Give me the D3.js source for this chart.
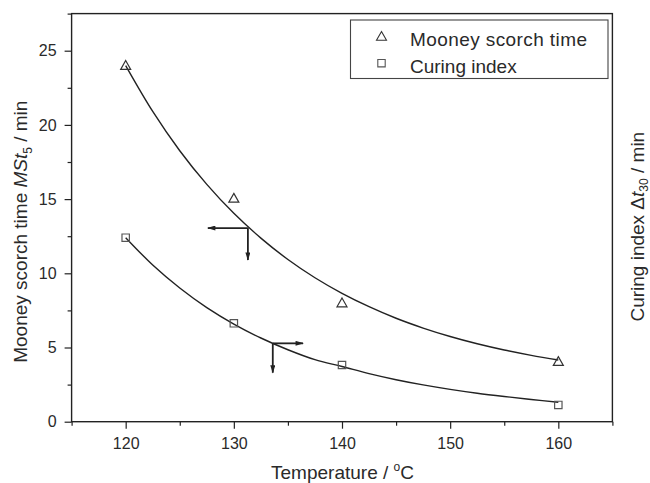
<!DOCTYPE html>
<html>
<head>
<meta charset="utf-8">
<script src="https://cdn.jsdelivr.net/npm/d3@7"></script>
<style>
  body { margin: 0; background: #fff; }
  text { font-family: "Liberation Sans", Arial, sans-serif; fill: #2a2a2a; }
  .axis text { font-size: 16px; }
  .axis line { stroke: #222; stroke-width: 1.2; }
  .title { font-size: 19px; }
</style>
</head>
<body>
<div id="chart"></div>
<script>
// measured points
let temps = [120, 130, 140, 160];
let scorchTime = [24.0, 15.05, 8.0, 4.05];
let curingIndex = [12.4, 6.63, 3.82, 1.13];

// fitted curves
let fitTemps = [120, 122.5, 125, 127.5, 130, 132.5, 135, 137.5, 140, 142.5, 145, 147.5, 150, 152.5, 155, 157.5, 160];
let scorchFit = [24.0, 20.91, 18.26, 15.99, 14.04, 12.37, 10.93, 9.70, 8.65, 7.75, 6.97, 6.31, 5.74, 5.25, 4.83, 4.47, 4.16];
let curingFit = [12.4, 10.56, 9.01, 7.69, 6.58, 5.64, 4.85, 4.18, 3.72, 3.24, 2.83, 2.48, 2.18, 1.92, 1.70, 1.50, 1.31];

let seriesNames = ['Mooney scorch time', 'Curing index'];

let xMajor = [120, 130, 140, 150, 160];
let xMinor = [115, 125, 135, 145, 155, 165];
let yMajor = [0, 5, 10, 15, 20, 25];
let yMinor = [2.5, 7.5, 12.5, 17.5, 22.5, 27.5];

// axis-pointer arrows: corner on the curve, then horizontal and vertical tips
let arrowCorner = [[131.3, 13.05], [133.6, 5.28]];
let arrowHorizTip = [127.6, 136.4];
let arrowVertTip = [10.9, 3.3];

let margin = {top: 13.6, right: 37.6, bottom: 61.3, left: 71.6};
let width = 650 - margin.left - margin.right;
let height = 483 - margin.top - margin.bottom;

let xScale = d3.scaleLinear().domain([115, 165]).range([0, width]);
let yScale = d3.scaleLinear().domain([0, 27.5]).range([height, 0]);

let root = d3.select('#chart')
  .append('svg')
  .attr('width', 650)
  .attr('height', 483);

root.append('defs').append('marker')
  .attr('id', 'head')
  .attr('viewBox', '0 -3 10 6')
  .attr('refX', 9)
  .attr('refY', 0)
  .attr('markerUnits', 'userSpaceOnUse')
  .attr('markerWidth', 9)
  .attr('markerHeight', 5)
  .attr('orient', 'auto')
  .append('path')
  .attr('d', 'M0,-3L10,0L0,3Z')
  .attr('fill', '#222');

let svg = root.append('g')
  .attr('transform', 'translate(' + margin.left + ',' + margin.top + ')');

// axes
let xAxis = d3.axisBottom(xScale).tickValues(xMajor).tickSize(7).tickPadding(9).tickSizeOuter(0);
let xAxisMinor = d3.axisBottom(xScale).tickValues(xMinor).tickSize(4).tickFormat('').tickSizeOuter(0);
let yAxis = d3.axisLeft(yScale).tickValues(yMajor).tickSize(7).tickPadding(8).tickSizeOuter(0);
let yAxisMinor = d3.axisLeft(yScale).tickValues(yMinor).tickSize(4).tickFormat('').tickSizeOuter(0);

svg.append('g').attr('class', 'x axis').attr('transform', 'translate(0,' + height + ')').call(xAxis);
svg.append('g').attr('class', 'x axis').attr('transform', 'translate(0,' + height + ')').call(xAxisMinor);
svg.append('g').attr('class', 'y axis').call(yAxis);
svg.append('g').attr('class', 'y axis').call(yAxisMinor);
svg.selectAll('.axis .domain').remove();
svg.selectAll('.axis text').attr('font-family', null);

svg.append('rect')
  .attr('width', width)
  .attr('height', height)
  .attr('fill', 'none')
  .attr('stroke', '#222')
  .attr('stroke-width', 1.4);

// fit curves
let line = d3.line()
  .x(d => xScale(d[0]))
  .y(d => yScale(d[1]))
  .curve(d3.curveCatmullRom);

[scorchFit, curingFit].forEach(fit => {
  svg.append('path')
    .datum(fitTemps.map((t, i) => [t, fit[i]]))
    .attr('d', line)
    .attr('fill', 'none')
    .attr('stroke', '#222')
    .attr('stroke-width', 1.4);
});

// markers
let triangle = 'M0,-5L5,3.8L-5,3.8Z';
let square = 'M-3.7,-3.7H3.7V3.7H-3.7Z';

svg.selectAll('.tri')
  .data(temps.map((t, i) => [t, scorchTime[i]]))
  .enter()
  .append('path')
  .attr('class', 'tri')
  .attr('d', triangle)
  .attr('transform', d => 'translate(' + xScale(d[0]) + ',' + yScale(d[1]) + ')')
  .attr('fill', 'none')
  .attr('stroke', '#333')
  .attr('stroke-width', 1.2);

svg.selectAll('.sq')
  .data(temps.map((t, i) => [t, curingIndex[i]]))
  .enter()
  .append('path')
  .attr('class', 'sq')
  .attr('d', square)
  .attr('transform', d => 'translate(' + xScale(d[0]) + ',' + yScale(d[1]) + ')')
  .attr('fill', 'none')
  .attr('stroke', '#555')
  .attr('stroke-width', 1.2);

// arrows
arrowCorner.forEach((c, i) => {
  let cx = xScale(c[0]);
  let cy = yScale(c[1]);
  svg.append('line')
    .attr('x1', cx).attr('y1', cy)
    .attr('x2', xScale(arrowHorizTip[i])).attr('y2', cy)
    .attr('stroke', '#222').attr('stroke-width', 1.8)
    .attr('marker-end', 'url(#head)');
  svg.append('line')
    .attr('x1', cx).attr('y1', cy)
    .attr('x2', cx).attr('y2', yScale(arrowVertTip[i]))
    .attr('stroke', '#222').attr('stroke-width', 1.8)
    .attr('marker-end', 'url(#head)');
});

// legend
let legend = root.append('g').attr('transform', 'translate(350.5,20)');
legend.append('rect')
  .attr('width', 257.5)
  .attr('height', 58.5)
  .attr('fill', '#fff')
  .attr('stroke', '#444')
  .attr('stroke-width', 1.1);

let rows = legend.selectAll('.row')
  .data(seriesNames)
  .enter()
  .append('g')
  .attr('class', 'row')
  .attr('transform', (d, i) => 'translate(0,' + (16.5 + i * 26.7) + ')');

rows.append('path')
  .attr('d', (d, i) => i === 0 ? triangle : square)
  .attr('transform', 'translate(31,0)')
  .attr('fill', 'none')
  .attr('stroke', (d, i) => i === 0 ? '#333' : '#555')
  .attr('stroke-width', 1.1);

rows.append('text')
  .attr('class', 'title')
  .attr('x', 59.5)
  .attr('y', 9.5)
  .attr('textLength', 177)
  .text(d => d);
rows.filter((d, i) => i === 1).select('text').attr('textLength', null);

// axis titles
root.append('text')
  .attr('class', 'title')
  .attr('text-anchor', 'middle')
  .attr('x', 342.5)
  .attr('y', 479)
  .html('Temperature / <tspan font-size="12" dy="-8">o</tspan><tspan dy="8">C</tspan>');

let yTitle = root.append('text')
  .attr('class', 'title')
  .attr('text-anchor', 'middle')
  .attr('transform', 'translate(27.3,231.7) rotate(-90)');
yTitle.append('tspan').text('Mooney scorch time ');
yTitle.append('tspan').attr('font-style', 'italic').text('MSt');
yTitle.append('tspan').attr('font-size', 12).attr('dy', 5).text('5');
yTitle.append('tspan').attr('dy', -5).text(' / min');

let y2Title = root.append('text')
  .attr('class', 'title')
  .attr('text-anchor', 'middle')
  .attr('transform', 'translate(643.5,226.7) rotate(-90)');
y2Title.append('tspan').text('Curing index \u0394');
y2Title.append('tspan').attr('font-style', 'italic').text('t');
y2Title.append('tspan').attr('font-size', 12).attr('dy', 4).text('30');
y2Title.append('tspan').attr('dy', -4).text(' / min');
</script>
</body>
</html>
